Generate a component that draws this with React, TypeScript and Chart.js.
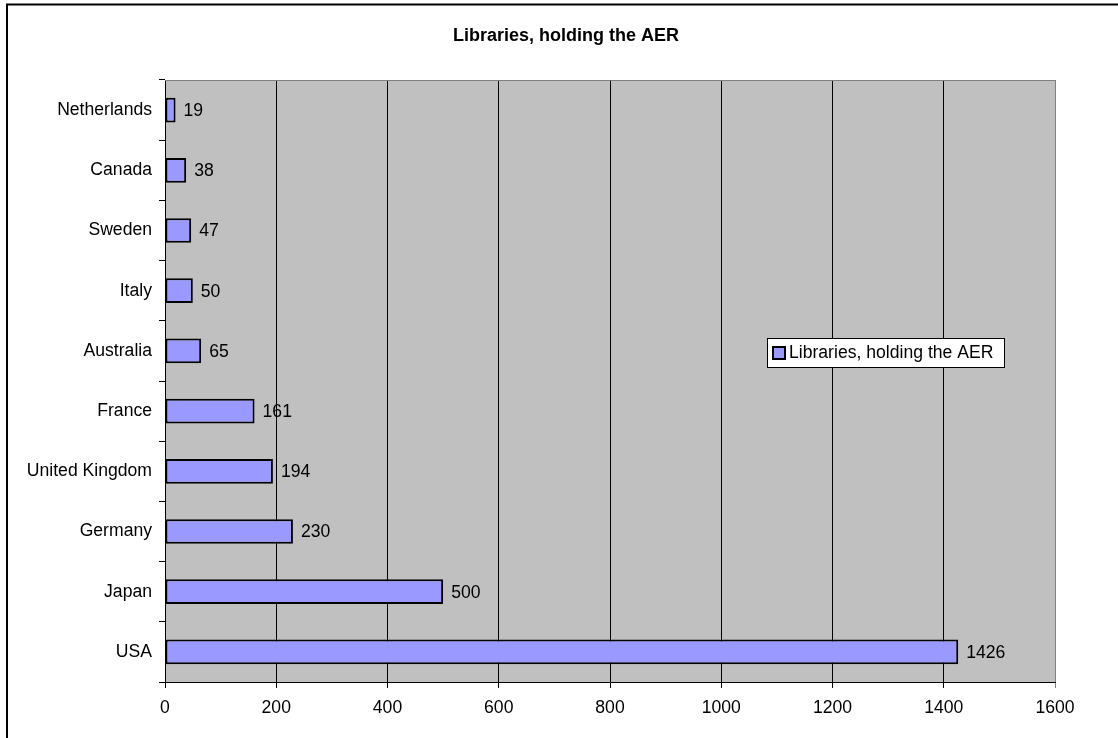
import React, { useEffect, useRef } from "react";
import { Chart, registerables } from "chart.js";

Chart.register(...registerables);

const categories = [
  "Netherlands",
  "Canada",
  "Sweden",
  "Italy",
  "Australia",
  "France",
  "United Kingdom",
  "Germany",
  "Japan",
  "USA",
];
const librariesValues = [19, 38, 47, 50, 65, 161, 194, 230, 500, 1426];
const seriesLabel = "Libraries, holding the AER";
const chartTitle = "Libraries, holding the AER";
const xTickMax = 1600;
const xTickStep = 200;

const FONT = "'Liberation Sans', Arial, sans-serif";
const BAR_COLOR = "#9999FF";
const FS = 17.6;

const decorPlugin = {
  id: "decor",
  beforeDraw(chart: any) {
    const { ctx, chartArea } = chart;
    ctx.save();
    ctx.fillStyle = "#ffffff";
    ctx.fillRect(0, 0, chart.width, chart.height);
    ctx.fillStyle = "#C0C0C0";
    ctx.fillRect(chartArea.left, chartArea.top, chartArea.right - chartArea.left, chartArea.bottom - chartArea.top);
    // outer border
    ctx.strokeStyle = "#000";
    ctx.lineWidth = 2;
    ctx.strokeRect(7, 4.5, chart.width + 20, chart.height + 20);
    ctx.restore();
  },
  afterDraw(chart: any) {
    const { ctx, chartArea } = chart;
    ctx.save();
    // top and right plot border (gray)
    ctx.strokeStyle = "#808080";
    ctx.lineWidth = 1;
    ctx.beginPath();
    ctx.moveTo(chartArea.left, chartArea.top + 0.5);
    ctx.lineTo(chartArea.right + 0.5, chartArea.top + 0.5);
    ctx.lineTo(chartArea.right + 0.5, chartArea.bottom);
    ctx.stroke();

    // title
    ctx.fillStyle = "#000";
    ctx.font = `bold 18px ${FONT}`;
    ctx.textAlign = "center";
    ctx.textBaseline = "middle";
    ctx.fillText(chartTitle, 566, 36);

    // value labels
    const meta = chart.getDatasetMeta(0);
    ctx.font = `${FS}px ${FONT}`;
    ctx.textAlign = "left";
    ctx.textBaseline = "middle";
    meta.data.forEach((bar: any, i: number) => {
      ctx.fillText(String(librariesValues[i]), bar.x + 8, bar.y + 1);
    });

    // legend
    const lx = 767;
    const ly = 338;
    const lw = 237;
    const lh = 29;
    ctx.fillStyle = "#fff";
    ctx.fillRect(lx, ly, lw, lh);
    ctx.strokeStyle = "#000";
    ctx.lineWidth = 1;
    ctx.strokeRect(lx + 0.5, ly + 0.5, lw, lh);
    ctx.fillStyle = BAR_COLOR;
    ctx.fillRect(lx + 6, ly + 9, 12, 12);
    ctx.lineWidth = 2;
    ctx.strokeRect(lx + 6, ly + 9, 12, 12);
    ctx.fillStyle = "#000";
    ctx.font = `${FS}px ${FONT}`;
    ctx.textAlign = "left";
    ctx.textBaseline = "middle";
    ctx.fillText(seriesLabel, lx + 22, ly + 15);
    ctx.restore();
  },
};

export default function App() {
  const canvasRef = useRef<HTMLCanvasElement | null>(null);

  useEffect(() => {
    if (!canvasRef.current) return;
    const chart = new Chart(canvasRef.current, {
      type: "bar",
      data: {
        labels: categories,
        datasets: [
          {
            label: seriesLabel,
            data: librariesValues,
            backgroundColor: BAR_COLOR,
            borderColor: "#000",
            borderWidth: 2,
            borderSkipped: false,
            barPercentage: 0.41,
            categoryPercentage: 1,
          },
        ],
      },
      options: {
        indexAxis: "y",
        animation: false,
        responsive: false,
        maintainAspectRatio: false,
        layout: { padding: { left: 0, right: 63, top: 80, bottom: 0 } },
        plugins: {
          legend: { display: false },
          title: { display: false },
          tooltip: { enabled: false },
        },
        scales: {
          x: {
            min: 0,
            max: xTickMax,
            ticks: {
              stepSize: xTickStep,
              color: "#000",
              font: { family: FONT, size: FS },
              padding: 10,
              callback: (v: any) => String(v),
            },
            grid: {
              color: (c: any) => (c.tick && c.tick.value === xTickMax ? "#808080" : "#000"),
              tickLength: 6,
              drawOnChartArea: true,
            },
            border: { color: "#000", width: 1 },
            afterFit: (scale: any) => {
              scale.height = 56;
            },
          },
          y: {
            ticks: {
              color: "#000",
              font: { family: FONT, size: FS },
              padding: 7,
              autoSkip: false,
            },
            grid: {
              drawOnChartArea: false,
              tickLength: 6,
              color: "#000",
              offset: true,
            },
            border: { color: "#000", width: 1 },
            afterFit: (scale: any) => {
              scale.width = 165;
            },
          },
        },
      },
      plugins: [decorPlugin],
    } as any);
    return () => chart.destroy();
  }, []);

  return (
    <div style={{ position: "fixed", left: 0, top: 0, width: 1118, height: 738 }}>
      <canvas ref={canvasRef} width={1118} height={738} style={{ width: 1118, height: 738 }} />
    </div>
  );
}
